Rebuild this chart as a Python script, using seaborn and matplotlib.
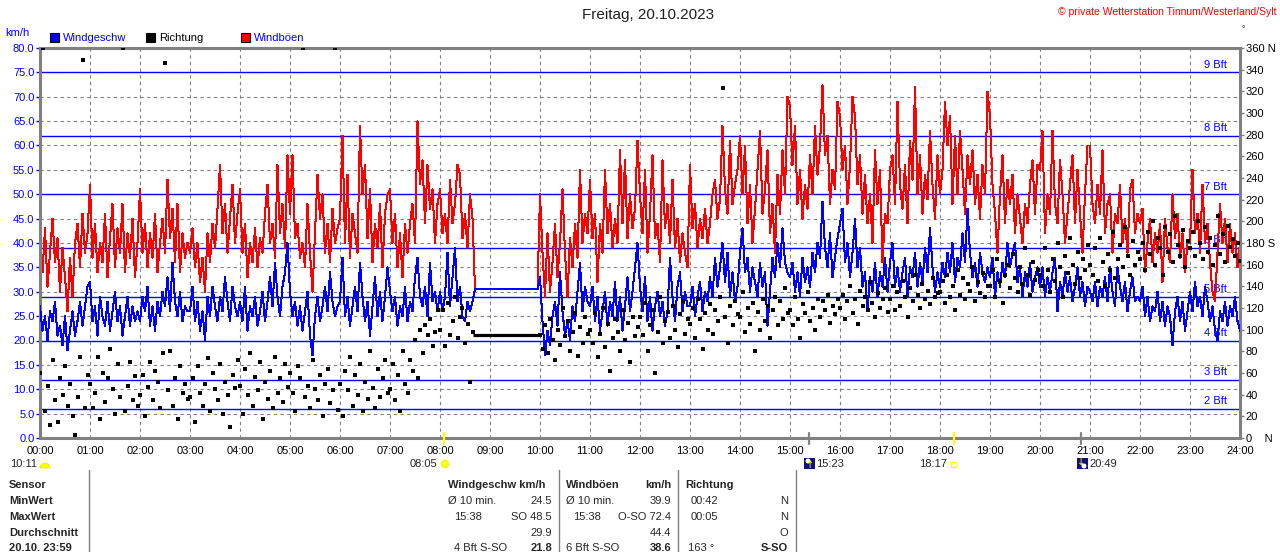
import numpy as np
import matplotlib
matplotlib.use("Agg")
import matplotlib.pyplot as plt
import seaborn as sns
from matplotlib.patches import Rectangle, Wedge, Circle

sns.set_style("white")
plt.rcParams['font.family'] = ['Liberation Sans', 'DejaVu Sans']

# ---- data: 3 minute steps, 00:00 .. 24:00 ----
# gusts (km/h) 00:00 - 08:39
gust_0008 = [
    40, 34, 43, 31, 38, 45, 36, 41, 30, 39, 33, 26, 37, 29, 40, 44, 35, 46, 38, 42,   # 00h
    52, 37, 44, 34, 40, 36, 46, 33, 41, 48, 35, 43, 38, 48, 34, 42, 37, 45, 33, 40,   # 01h
    51, 38, 44, 35, 42, 37, 46, 34, 40, 45, 38, 53, 41, 47, 36, 48, 34, 42, 37, 40,   # 02h
    38, 43, 35, 40, 32, 37, 30, 42, 36, 44, 39, 47, 56, 42, 48, 38, 45, 52, 40, 46,   # 03h
    51, 38, 44, 33, 40, 36, 43, 35, 41, 38, 46, 52, 40, 44, 37, 56, 42, 48, 39, 58,   # 04h
    46, 58, 41, 44, 37, 40, 35, 48, 38, 30, 42, 54, 45, 50, 38, 44, 36, 47, 40, 43,   # 05h
    45, 62, 40, 54, 37, 46, 42, 38, 64, 50, 56, 41, 51, 36, 44, 39, 48, 35, 46, 50,   # 06h
    51, 40, 46, 35, 42, 33, 44, 38, 44, 48, 40, 65, 52, 57, 44, 56, 47, 51, 40, 48,   # 07h
    51, 42, 46, 40, 53, 44, 48, 56, 54, 41, 46, 39, 50, 45,                           # 08:00-08:39
]
# station gap 08:42 - 09:57, logger repeats one value
gust_gap = [30.5, 30.5, 30.5, 30.5, 30.5, 30.5, 30.5, 30.5, 30.5, 30.5, 30.5, 30.5, 30.5,
            30.5, 30.5, 30.5, 30.5, 30.5, 30.5, 30.5, 30.5, 30.5, 30.5, 30.5, 30.5, 30.5]
# gusts 10:00 - 24:00
gust_1024 = [
    50, 38, 29, 42, 30, 36, 44, 33, 40, 51, 38, 29, 41, 35, 44, 37, 55, 40, 46, 42,   # 10h
    53, 41, 46, 32, 44, 38, 55, 42, 48, 39, 45, 40, 59, 44, 57, 41, 50, 43, 47, 61,   # 11h
    50, 42, 55, 38, 46, 58, 41, 44, 36, 57, 43, 48, 40, 53, 39, 45, 36, 42, 38, 35,   # 12h
    56, 43, 48, 39, 45, 41, 47, 40, 44, 50, 53, 45, 49, 64, 51, 46, 61, 48, 52, 55,   # 13h
    62, 50, 60, 44, 52, 40, 47, 55, 63, 46, 51, 59, 42, 48, 38, 54, 46, 59, 50, 70,   # 14h
    68, 56, 64, 48, 55, 45, 52, 47, 58, 50, 64, 54, 60, 72.4, 58, 62, 48, 55, 51, 69, # 15h
    66, 55, 60, 48, 56, 70, 66, 52, 58, 46, 54, 44, 50, 40, 59, 48, 55, 36, 46, 44,   # 16h
    55, 58, 48, 69, 52, 47, 56, 44, 61, 53, 72, 50, 58, 46, 54, 49, 63, 52, 45, 58,   # 17h
    50, 55, 69, 60, 66, 48, 62, 50, 63, 55, 46, 58, 52, 59, 48, 54, 45, 56, 50, 71,   # 18h
    66, 52, 46, 38, 50, 58, 44, 53, 48, 54, 42, 50, 45, 40, 48, 44, 52, 57, 46, 56,   # 19h
    55, 63, 42, 50, 46, 63, 48, 44, 57, 50, 40, 46, 52, 58, 44, 55, 46, 38, 50, 60,   # 20h
    60, 48, 44, 52, 46, 59, 42, 48, 50, 38, 46, 44, 52, 40, 45, 38, 51, 53, 42, 46,   # 21h
    44, 47, 34, 40, 45, 36, 42, 38, 44, 32, 45, 39, 36, 50, 41, 46, 37, 42, 34, 40,   # 22h
    40, 55, 42, 46, 38, 52, 40, 44, 36, 30, 28, 38, 48, 40, 45, 36, 44, 38, 42, 35, 40,  # 23h + 24:00
]

# mean wind (km/h)
wind_0008 = [
    27, 22, 25, 20, 26, 24, 28, 21, 23, 19, 25, 18, 22, 26, 21, 24, 28, 23, 27, 31,
    32, 24, 27, 21, 29, 25, 23, 28, 22, 26, 30, 24, 27, 21, 25, 29, 23, 27, 24, 26,
    24, 29, 26, 31, 23, 27, 22, 28, 25, 30, 27, 33, 26, 36, 28, 25, 30, 24, 27, 26,
    26, 31, 24, 28, 22, 26, 20, 29, 25, 31, 27, 24, 29, 26, 33, 28, 24, 31, 27, 25,
    28, 24, 31, 22, 27, 25, 29, 23, 26, 30, 24, 28, 33, 27, 36, 29, 25, 31, 34, 40,
    30, 25, 28, 23, 27, 22, 26, 30, 21, 17, 25, 29, 24, 27, 31, 26, 34, 28, 25, 27,
    28, 37, 25, 29, 23, 27, 31, 26, 36, 29, 24, 28, 21, 27, 33, 25, 30, 24, 29, 35,
    30, 26, 29, 23, 27, 25, 31, 24, 28, 26, 33, 37, 29, 27, 31, 25, 36, 28, 30, 26,
    30, 26, 29, 38, 27, 33, 39, 28, 31, 25, 24, 28, 26, 28,
]
wind_gap = [30.5, 30.5, 30.5, 30.5, 30.5, 30.5, 30.5, 30.5, 30.5, 30.5, 30.5, 30.5, 30.5,
            30.5, 30.5, 30.5, 30.5, 30.5, 30.5, 30.5, 30.5, 30.5, 30.5, 30.5, 30.5, 30.5]
wind_1024 = [
    33, 24, 17, 22, 19, 25, 28, 23, 34, 26, 21, 24, 20, 27, 24, 30, 36, 26, 31, 28,
    27, 31, 24, 29, 22, 26, 30, 23, 28, 25, 32, 24, 29, 22, 27, 33, 26, 30, 35, 40,
    31, 26, 33, 24, 29, 22, 27, 30, 25, 28, 23, 26, 37, 29, 24, 31, 34, 26, 30, 27,
    27, 31, 25, 29, 32, 26, 30, 28, 33, 29, 37, 31, 35, 40, 32, 38, 29, 34, 28, 31,
    38, 43, 34, 37, 30, 35, 32, 29, 36, 31, 34, 23, 30, 37, 33, 40, 35, 43, 36, 34,
    33, 36, 30, 34, 29, 37, 32, 35, 31, 38, 34, 40, 37, 48.5, 39, 35, 42, 33, 37, 41,
    44, 47, 36, 40, 33, 38, 45, 35, 39, 31, 34, 26, 33, 30, 36, 29, 34, 31, 37, 30,
    36, 40, 31, 35, 30, 34, 37, 29, 35, 33, 38, 31, 36, 32, 39, 34, 43, 35, 30, 34,
    31, 36, 33, 38, 34, 40, 32, 37, 35, 42, 36, 47, 38, 33, 36, 31, 38, 34, 32, 35,
    33, 37, 29, 34, 31, 36, 33, 40, 35, 38, 40, 32, 35, 29, 34, 31, 36, 30, 33, 35,
    31, 35, 29, 33, 30, 34, 37, 26, 32, 29, 34, 30, 33, 28, 31, 35, 29, 32, 27, 31,
    30, 28, 32, 27, 31, 29, 33, 28, 35, 30, 27, 35, 31, 28, 32, 26, 30, 33, 28, 29,
    28, 31, 25, 29, 24, 27, 26, 30, 24, 28, 23, 27, 25, 19, 26, 29, 24, 28, 22, 26,
    30, 26, 32, 27, 29, 25, 31, 28, 24, 27, 22, 20, 26, 24, 28, 23, 27, 25, 29, 24, 22,
]

# wind direction (degrees), no dots during the gap
dir_0008 = [
    60, 360, 25, 48, 12, 72, 35, 15, 55, 40, 66, 30, 50, 20, 3, 38, 75, 349, 28, 58,
    50, 28, 42, 75, 18, 60, 33, 55, 82, 45, 22, 68, 38, 360, 25, 48, 70, 35, 57, 30,
    40, 58, 20, 47, 70, 35, 62, 52, 28, 78, 346, 44, 80, 30, 55, 18, 66, 42, 50, 36,
    38, 55, 15, 66, 42, 30, 50, 74, 25, 60, 45, 35, 68, 22, 52, 40, 10, 58, 46, 72,
    48, 22, 64, 40, 78, 30, 56, 44, 70, 18, 52, 36, 62, 28, 75, 42, 55, 33, 68, 47,
    60, 42, 25, 66, 55, 360, 38, 48, 28, 72, 45, 35, 58, 20, 50, 64, 32, 44, 360, 26,
    50, 20, 62, 44, 75, 30, 58, 40, 68, 25, 52, 36, 80, 46, 28, 64, 38, 55, 72, 42,
    45, 68, 35, 58, 25, 80, 50, 42, 72, 62, 90, 55, 100, 78, 104, 95, 110, 85, 98, 118,
    100, 118, 85, 125, 95, 108, 130, 92, 112, 120, 88, 105, 52, 98,
]
dir_gap = 95
dir_1024 = [
    95, 82, 104, 78, 110, 90, 72, 100, 86, 120, 94, 108, 80, 98, 115, 76, 102, 88, 112, 96,
    100, 88, 115, 75, 96, 120, 84, 105, 62, 92, 110, 98, 80, 118, 90, 106, 70, 112, 94, 102,
    112, 95, 125, 80, 104, 118, 60, 98, 130, 88, 108, 116, 92, 122, 100, 84, 114, 126, 96, 110,
    105, 120, 92, 128, 110, 82, 115, 100, 124, 96, 118, 108, 130, 323, 112, 88, 122, 104, 126, 114,
    112, 135, 98, 120, 105, 125, 80, 116, 100, 128, 108, 122, 92, 118, 130, 104, 126, 110, 138, 115,
    118, 104, 130, 110, 92, 124, 115, 135, 108, 120, 100, 128, 112, 126, 118, 132, 106, 122, 114, 128,
    120, 132, 110, 126, 140, 115, 128, 105, 136, 122, 130, 118, 144, 125, 112, 134, 120, 128, 138, 116,
    128, 140, 118, 135, 122, 145, 130, 112, 138, 126, 150, 132, 120, 142, 128, 136, 124, 148, 130, 134,
    135, 145, 125, 150, 130, 140, 118, 155, 132, 148, 128, 142, 136, 158, 126, 144, 134, 152, 130, 140,
    140, 155, 130, 165, 145, 125, 150, 160, 138, 170, 148, 135, 158, 142, 175, 150, 132, 162, 146, 155,
    150, 140, 175, 155, 135, 165, 145, 180, 158, 130, 168, 152, 185, 160, 142, 172, 148, 165, 155, 178,
    160, 150, 175, 145, 185, 162, 140, 170, 155, 190, 148, 165, 178, 158, 195, 168, 150, 182, 160, 172,
    165, 180, 155, 190, 170, 200, 160, 185, 175, 150, 195, 172, 188, 162, 205, 178, 168, 192, 158, 182,
    175, 190, 168, 200, 180, 165, 195, 172, 185, 160, 178, 205, 170, 188, 162, 196, 176, 184, 168, 180, 163,
]

bft_levels = [6, 12, 20, 29, 39, 50, 62, 75]
bft_names = ["2 Bft", "3 Bft", "4 Bft", "5 Bft", "6 Bft", "7 Bft", "8 Bft", "9 Bft"]
hour_labels = [f"{h:02d}:00" for h in range(25)]
dir_ticks = list(range(0, 361, 20))
dir_labels = ["0    N" if d == 0 else "180 S" if d == 180 else "360 N" if d == 360 else str(d)
              for d in dir_ticks]

sun_events = ["08:05", "18:17"]
moon_events = ["15:23", "20:49"]

# ---- assemble ----
minutes = np.arange(0, 1441, 3)
t = minutes / 60
gust = np.array(gust_0008 + gust_gap + gust_1024, dtype=float)
wind = np.array(wind_0008 + wind_gap + wind_1024, dtype=float)
dir_mask = (minutes <= 519) | (minutes >= 600)
t_dir = t[dir_mask]
direction = np.array(dir_0008 + dir_1024, dtype=float)
assert len(gust) == len(t) and len(wind) == len(t) and len(direction) == len(t_dir), \
    (len(gust), len(wind), len(direction), len(t), len(t_dir))


def hm(s):
    h, m = s.split(":")
    return int(h) + int(m) / 60


fig = plt.figure(figsize=(12.8, 5.52), dpi=100)
ax = fig.add_axes([40 / 1280, 114 / 552, 1200 / 1280, 390 / 552])
ax.set_xlim(0, 24)
ax.set_ylim(0, 80)

grid_col = "#808080"
px = 0.72  # one pixel in points at 100 dpi
ax.set_yticks(np.arange(0, 81, 5))
ax.set_yticklabels([f"{v:.1f}" for v in np.arange(0, 81, 5)])
ax.set_xticks(range(25))
ax.set_xticklabels(hour_labels)
ax.grid(True, color=grid_col, linestyle=(0, (3, 3)), linewidth=0.8)
ax.set_axisbelow(True)
ax.tick_params(axis="y", colors="blue", labelsize=8, length=3, width=1, pad=1)
ax.tick_params(axis="x", colors="black", labelsize=8, length=0, pad=6)

for lvl, name in zip(bft_levels, bft_names):
    ax.axhline(lvl, color="blue", lw=1.0, zorder=1.5)
    ax.text(23.74, lvl + 0.5, name, color="blue", fontsize=8, ha="right", va="bottom", zorder=1.6)

sns.lineplot(x=t, y=gust, ax=ax, color="red", linewidth=px, estimator=None, zorder=2,
             antialiased=False)
sns.lineplot(x=t, y=wind, ax=ax, color="blue", linewidth=px, estimator=None, zorder=3,
             antialiased=False)
ax.set_xlabel("")
ax.set_ylabel("")

for sp in ax.spines.values():
    sp.set_color(grid_col)
    sp.set_linewidth(2.2)

ax2 = ax.twinx()
ax2.set_ylim(0, 360)
sns.scatterplot(x=t_dir, y=direction, ax=ax2, color="black", marker="s", s=6, linewidth=0,
                zorder=4)
ax2.plot([hm("08:39"), hm("09:58")], [dir_gap, dir_gap],
         color="black", lw=2.3, solid_capstyle="butt")
ax2.set_yticks(dir_ticks)
ax2.set_yticklabels(dir_labels)
ax2.tick_params(axis="y", colors=grid_col, labelcolor="black", labelsize=8, length=3, width=1, pad=1)
ax2.set_ylabel("")
for sp in ax2.spines.values():
    sp.set_visible(False)

# sun / moon markers on the time axis
for s in sun_events:
    ax.plot([hm(s), hm(s)], [1.0, -1.3], color="#ffff00", lw=1.6, clip_on=False, zorder=6)
for s in moon_events:
    ax.plot([hm(s), hm(s)], [1.0, -1.3], color=grid_col, lw=1.6, clip_on=False, zorder=6)

# ---- decorations in pixel coordinates ----
deco = fig.add_axes([0, 0, 1, 1])
deco.set_xlim(0, 1280)
deco.set_ylim(552, 0)
deco.axis("off")
deco.patch.set_visible(False)

deco.text(648, 15, "Freitag, 20.10.2023", fontsize=11, color="#202020", ha="center", va="center")
deco.text(1276, 12, "© private Wetterstation Tinnum/Westerland/Sylt", fontsize=7.5, color="red",
          ha="right", va="center")
deco.text(1243, 30, "°", fontsize=6, color="black", ha="center", va="center")
deco.text(5, 33, "km/h", fontsize=8, color="blue", va="center")

legend_items = [(50, "blue", "Windgeschw", "blue"), (146, "black", "Richtung", "black"),
                (241, "red", "Windböen", "blue")]
for x0, fc, label, tc in legend_items:
    deco.add_patch(Rectangle((x0, 33), 9, 9, facecolor=fc, edgecolor="black", lw=0.8))
    deco.text(x0 + 13, 38, label, fontsize=8, color=tc, va="center")

# time-axis icons
deco.text(37, 464, "10:11", fontsize=8, ha="right", va="center")
deco.add_patch(Wedge((45, 468), 5, 180, 360, facecolor="#ffff00", edgecolor="#e8e000", lw=0.5))
deco.text(437, 464, "08:05", fontsize=8, ha="right", va="center")
deco.add_patch(Circle((445, 464), 3.5, facecolor="#ffff00", edgecolor="#f0f000"))
deco.text(445, 464.5, "☀", fontsize=9, color="#ffff40", ha="center", va="center", family="DejaVu Sans")
deco.add_patch(Rectangle((804, 458), 11, 11, facecolor="#10107a", edgecolor="none"))
deco.add_patch(Circle((808, 461), 2.5, facecolor="white", edgecolor="none"))
deco.text(810, 465, "↑", fontsize=7, color="#ffff00", ha="center", va="center", family="DejaVu Sans")
deco.text(816, 464, "15:23", fontsize=8, ha="left", va="center")
deco.text(947, 464, "18:17", fontsize=8, ha="right", va="center")
deco.add_patch(Rectangle((951, 462), 5, 5, facecolor="none", edgecolor="#ffff00", lw=1))
deco.add_patch(Rectangle((1077, 458), 11, 11, facecolor="#10107a", edgecolor="none"))
deco.add_patch(Circle((1084, 466), 2.5, facecolor="white", edgecolor="none"))
deco.text(1081, 462, "↓", fontsize=7, color="#ffff00", ha="center", va="center", family="DejaVu Sans")
deco.text(1089, 464, "20:49", fontsize=8, ha="left", va="center")

# summary table
row_y = [485, 501, 517, 533, 548]
row_names = ["Sensor", "MinWert", "MaxWert", "Durchschnitt", "20.10. 23:59"]
for y, name in zip(row_y, row_names):
    deco.text(9, y, name, fontsize=8, weight="bold", va="center")
for x in [89, 559, 678, 796]:
    deco.plot([x, x], [470, 552], color=grid_col, lw=1)

cells = [
    # x, row, text, ha, bold
    (448, 0, "Windgeschw km/h", "left", True),
    (448, 1, "Ø 10 min.", "left", False), (552, 1, "24.5", "right", False),
    (454, 2, "15:38", "left", False), (552, 2, "SO 48.5", "right", False),
    (552, 3, "29.9", "right", False),
    (454, 4, "4 Bft S-SO", "left", False), (552, 4, "21.8", "right", True),
    (566, 0, "Windböen", "left", True), (671, 0, "km/h", "right", True),
    (566, 1, "Ø 10 min.", "left", False), (671, 1, "39.9", "right", False),
    (573, 2, "15:38", "left", False), (671, 2, "O-SO 72.4", "right", False),
    (671, 3, "44.4", "right", False),
    (566, 4, "6 Bft S-SO", "left", False), (671, 4, "38.6", "right", True),
    (685, 0, "Richtung", "left", True),
    (691, 1, "00:42", "left", False), (788, 1, "N", "right", False),
    (691, 2, "00:05", "left", False), (788, 2, "N", "right", False),
    (788, 3, "O", "right", False),
    (688, 4, "163 °", "left", False), (788, 4, "S-SO", "right", True),
]
for x, r, txt, ha, bold in cells:
    deco.text(x, row_y[r], txt, fontsize=8, ha=ha, va="center", weight="bold" if bold else "normal")

fig.savefig("out.png", dpi=100)
